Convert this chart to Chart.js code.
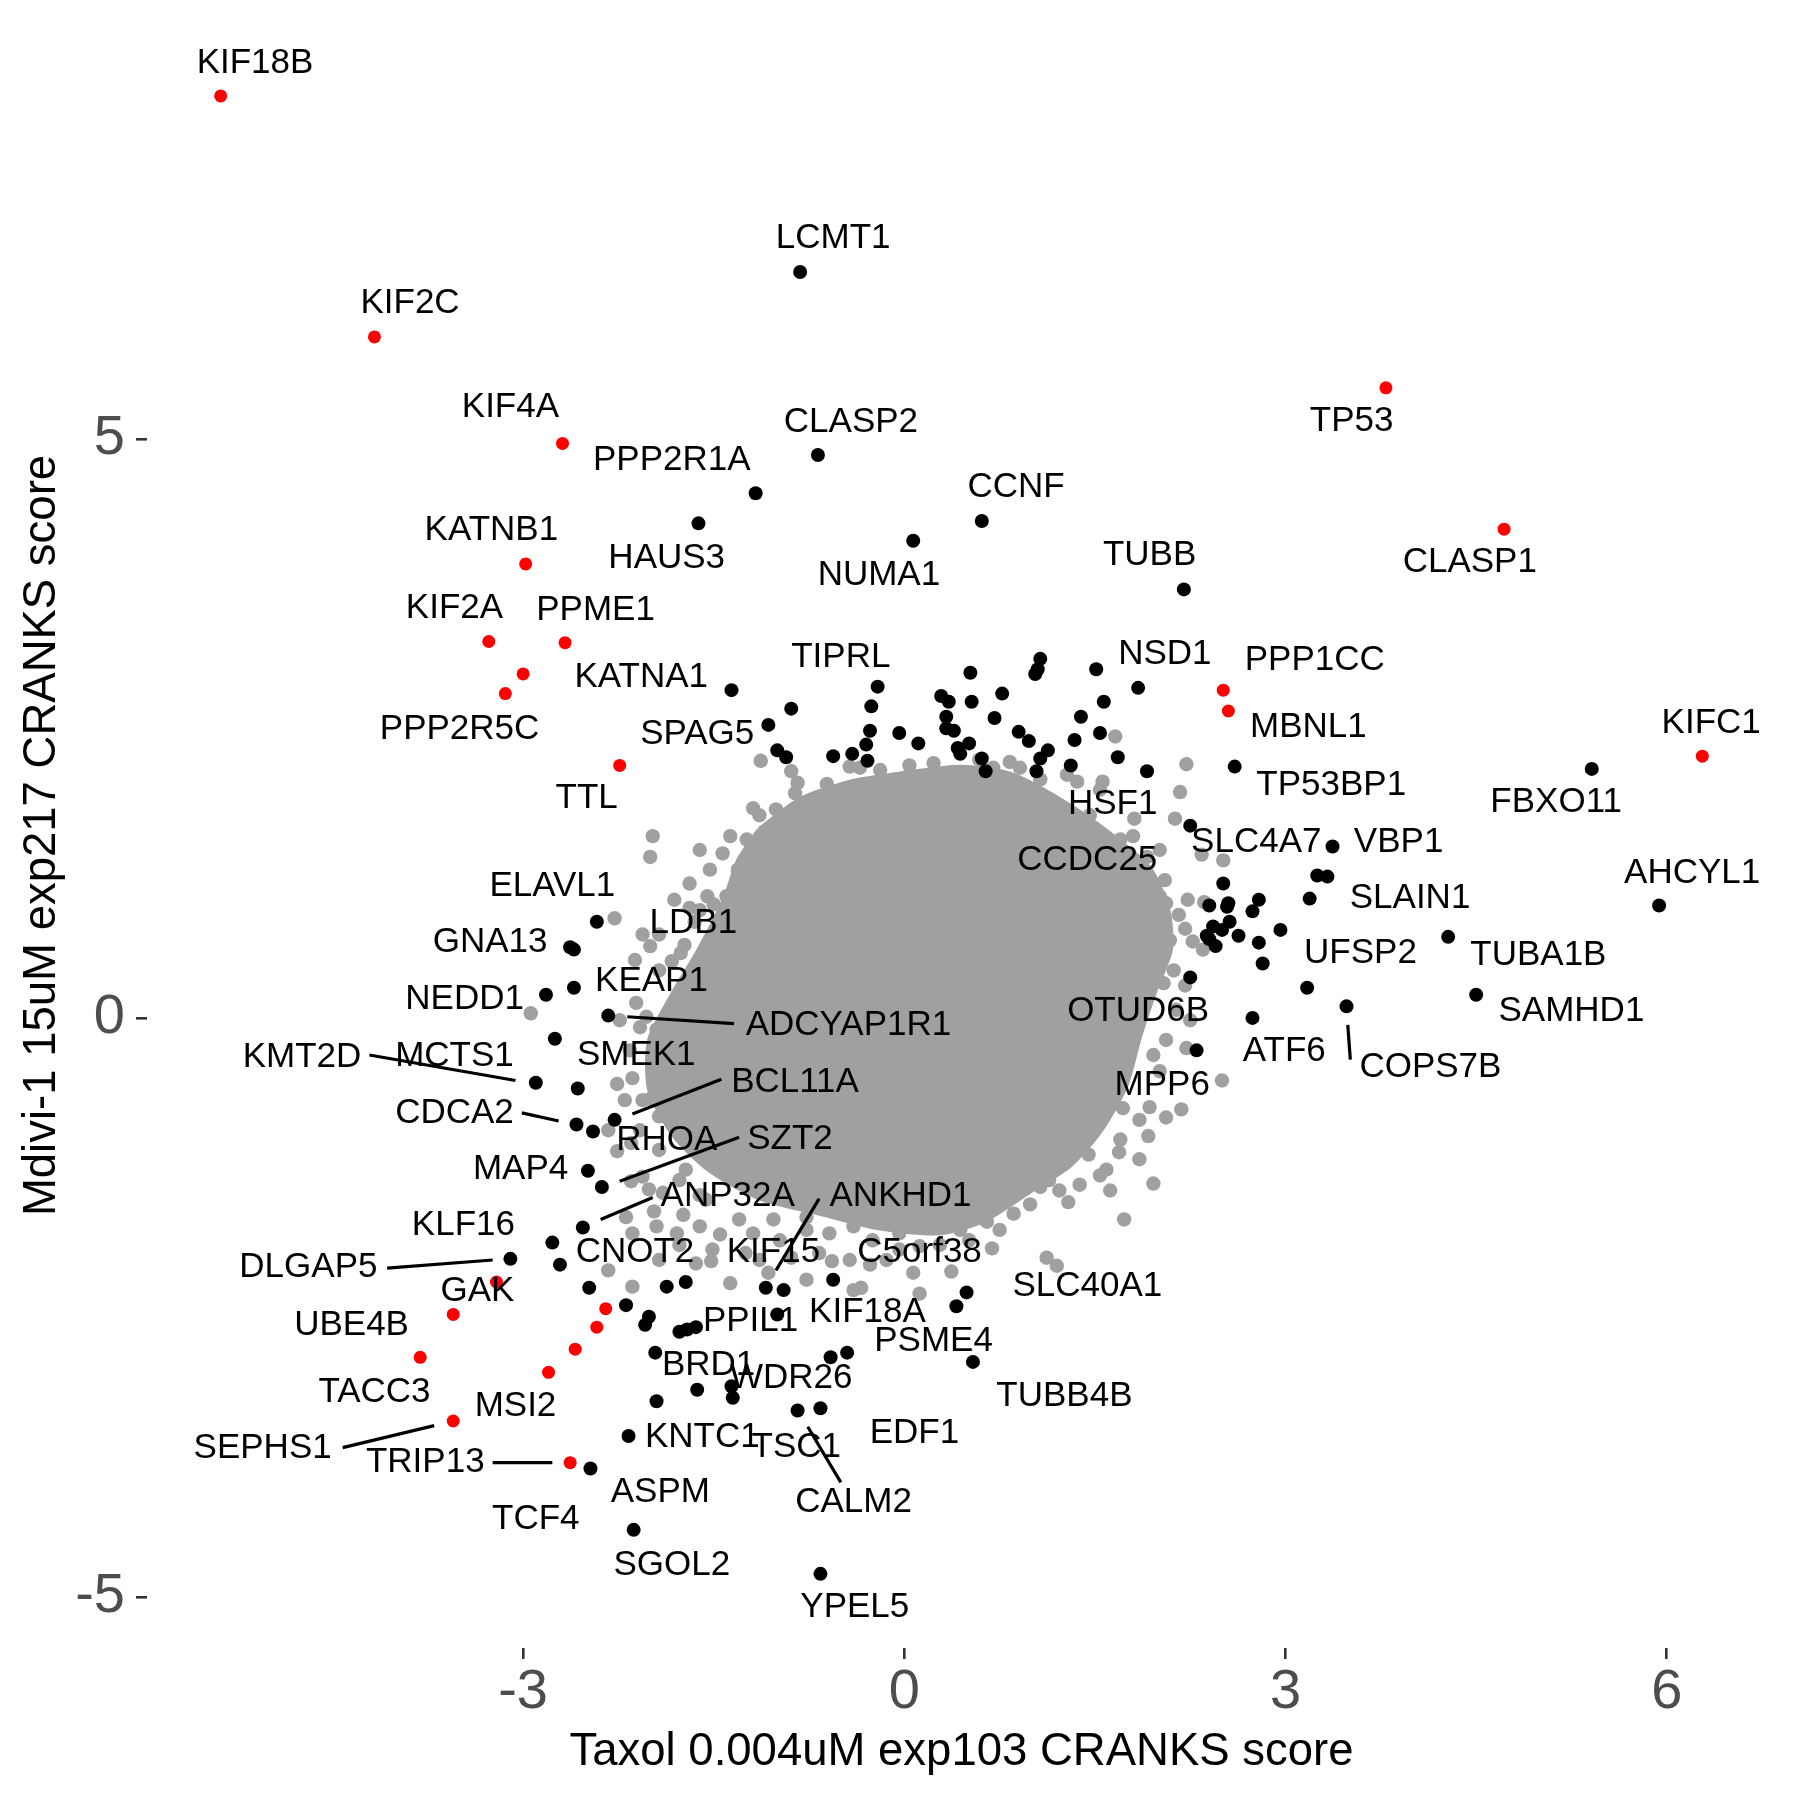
<!DOCTYPE html>
<html><head><meta charset="utf-8">
<script src="https://cdn.jsdelivr.net/npm/chart.js@4.4.1/dist/chart.umd.min.js"></script>
<style>html,body{margin:0;padding:0;background:#fff}canvas{display:block}</style>
</head><body>
<canvas id="c" width="1800" height="1800" style="width:1800px;height:1800px"></canvas>
<script>
const xTitle = "Taxol 0.004uM exp103 CRANKS score";
const yTitle = "Mdivi-1 15uM exp217 CRANKS score";
const xTicks = [-3, 0, 3, 6];
const yTicks = [-5, 0, 5];

// red (highlighted) genes
const redX = [-5.38,-4.17,-2.69,-2.98,-3.27,-2.67,-3.00,-3.14,-2.24,3.79,4.72,2.51,2.55,6.28,-3.21,-3.55,-3.81,-2.35,-2.42,-2.59,-2.80,-3.55,-2.63];
const redY = [7.96,5.88,4.96,3.92,3.25,3.24,2.97,2.80,2.18,5.44,4.22,2.83,2.65,2.26,-2.28,-2.56,-2.93,-2.51,-2.67,-2.86,-3.06,-3.48,-3.84];

// black (significant) genes
const blackX = [-0.82,-0.68,-1.17,-1.62,0.07,0.61,2.20,
 -1.36,-0.89,-1.07,-1.00,-0.93,-0.56,-0.41,-0.29,-0.30,-0.27,-0.26,-0.21,-0.04,0.11,
 0.52,0.29,0.35,0.53,0.77,1.07,1.05,1.03,1.51,1.84,1.57,1.39,1.54,1.34,0.71,0.33,0.33,0.39,0.90,0.98,0.51,0.42,0.44,0.61,0.64,1.13,1.07,1.04,1.31,1.68,1.91,
 2.60,5.41,2.25,3.37,3.25,3.33,3.19,5.94,2.51,2.40,2.54,2.55,2.79,2.74,2.96,2.43,2.50,2.56,2.38,2.63,2.45,2.40,2.79,2.82,4.28,2.25,3.17,4.50,3.48,2.74,2.30,
 -2.42,-2.63,-2.60,-2.60,-2.82,-2.33,-2.75,-2.90,-2.57,-2.58,-2.45,-2.28,-2.49,-2.38,-2.53,-2.77,-3.10,-2.71,-2.48,-1.87,-1.72,-1.09,-0.95,-0.56,-2.19,-2.01,-2.04,-1.00,-1.77,-1.71,-1.64,-1.96,-1.63,-1.36,-1.35,-1.95,-0.58,-0.45,-0.84,-0.66,-2.17,-2.47,-2.13,-0.66,0.49,0.41,0.54];
const blackY = [6.44,4.86,4.53,4.27,4.12,4.29,3.70,
 2.83,2.67,2.53,2.31,2.25,2.26,2.28,2.22,2.36,2.48,2.69,2.86,2.46,2.37,
 2.98,2.78,2.73,2.73,2.80,3.10,3.01,2.97,3.01,2.85,2.73,2.60,2.46,2.40,2.59,2.60,2.50,2.48,2.47,2.39,2.37,2.33,2.28,2.24,2.13,2.31,2.24,2.13,2.18,2.25,2.13,
 2.17,2.15,1.66,1.48,1.23,1.22,1.03,0.97,1.16,0.97,0.96,0.99,1.02,0.92,0.76,0.79,0.76,0.83,0.71,0.71,0.62,0.68,0.65,0.47,0.70,0.35,0.26,0.20,0.10,0.00,-0.28,
 0.83,0.61,0.59,0.26,0.20,0.02,-0.18,-0.56,-0.61,-0.92,-0.98,-0.88,-1.32,-1.46,-1.81,-1.94,-2.08,-2.13,-2.33,-2.32,-2.28,-2.33,-2.35,-2.26,-2.48,-2.58,-2.65,-2.56,-2.71,-2.69,-2.67,-2.89,-3.21,-3.18,-3.28,-3.31,-2.93,-2.89,-3.39,-3.37,-3.61,-3.89,-4.42,-4.80,-2.37,-2.49,-2.97];

// grey (other) genes around the dense core
const greyX = [-1.13,-0.89,-0.84,-0.86,-0.61,-0.43,-0.35,-0.46,-0.53,-0.55,-1.19,-1.14,-1.01,-0.93,-0.76,-0.65,-1.98,-2.00,-1.37,-1.43,-1.24,-1.23,-1.31,-1.69,-1.55,-1.40,-1.69,-2.28,-2.06,-2.00,-1.83,-1.76,-1.73,-1.93,-2.11,-2.24,-2.03,-2.08,-1.95,-1.61,-1.56,0.16,0.23,-1.65,-1.50,-2.94,-2.26,-2.00,-2.33,-2.26,-2.15,-2.15,-2.01,-1.02,0.34,0.46,0.70,0.67,
 0.83,0.91,1.28,1.36,1.56,1.54,1.66,2.22,2.17,2.13,1.80,1.81,1.91,1.85,2.51,2.34,2.23,2.36,2.16,2.21,2.27,2.35,2.01,2.06,2.09,2.12,2.04,2.06,2.22,2.50,1.96,2.01,1.72,1.85,1.93,2.06,2.18,1.92,1.69,1.85,1.54,1.45,1.54,1.59,1.96,1.29,1.73,1.07,1.14,0.86,0.65,0.69,0.37,1.12,1.20,0.12,
 -2.14,-2.06,-1.93,-2.06,-1.90,-2.19,-2.14,-1.95,-1.79,-1.61,-1.51,-1.64,-1.37,-1.19,-1.03,-0.77,-0.59,-0.40,-0.25,-0.04,0.12,-0.67,-0.43,-0.14,0.07,-0.40,-0.77,-2.14,-1.93,-1.56,-1.72,-0.77,-1.97,-1.74,-2.33,-1.52,-1.25,-0.89,-0.57,-0.34,-1.07,0.28,0.44,
 -0.82,-0.67,-1.01,-0.88,-1.09,-0.98,-1.24,-1.14,-1.37,-1.30,-1.45,
 2.21,2.14,2.25,1.38,1.22,0.99,0.75,0.51,1.70,1.62,
 -0.04,-0.27,0.28,-0.98,-1.30,-1.45,-1.77,-1.14,
 -2.16,-2.20,-2.08,-1.93,-1.77,-1.61,-2.12,-1.93,-1.61,-1.81,-1.53,-1.61,
 0.99,1.15,1.46,1.70,2.01,2.05,-0.19,0.04,0.59,1.07];
const greyY = [2.22,2.13,2.03,1.94,2.02,2.17,2.16,1.90,1.80,1.69,1.81,1.75,1.80,1.72,1.84,1.81,1.57,1.39,1.57,1.42,1.54,1.39,1.28,1.16,1.05,1.05,0.95,0.86,0.72,0.62,0.49,0.56,0.63,0.41,0.13,-0.02,0.01,-0.08,-0.10,0.50,0.33,2.06,2.20,0.83,0.98,0.04,-0.57,-0.70,-0.97,-1.15,-1.08,-1.41,-1.48,1.59,2.10,2.10,2.16,2.06,
 2.21,2.16,2.10,2.04,2.04,1.97,2.43,2.19,1.95,1.72,1.57,1.72,1.39,1.25,1.36,1.41,1.02,1.00,0.89,0.77,0.66,0.59,1.05,0.99,0.67,0.41,0.30,-0.19,-0.26,-0.54,-0.32,-0.46,-0.78,-0.88,-0.77,-0.86,-0.79,-1.02,-1.16,-1.22,-0.88,-1.18,-1.36,-1.31,-1.43,-1.59,-1.74,-1.46,-1.40,-1.69,-1.76,-1.99,-2.19,-2.07,-2.14,-2.38,
 -0.52,-0.71,-0.85,-1.37,-1.51,-1.72,-1.86,-1.80,-1.86,-1.80,-2.00,-2.12,-2.29,-1.86,-1.74,-1.83,-1.86,-1.80,-1.92,-1.86,-1.97,-2.03,-2.09,-2.09,-2.20,-2.35,-2.26,-2.32,-2.09,-1.57,-1.31,-1.72,-1.67,-1.70,-2.18,-2.10,-2.03,-2.07,-2.10,-2.33,-2.20,-1.74,-1.83,
 1.65,1.57,1.54,1.45,1.42,1.31,1.25,1.13,1.05,0.93,0.85,
 0.28,0.07,-0.02,-1.44,-1.49,-1.61,-1.83,-1.92,-1.05,-1.49,
 -2.00,-2.13,-1.96,-1.92,-1.74,-1.87,-1.96,-2.09,
 -0.28,-0.71,-0.97,-1.14,-1.40,-1.53,0.50,0.72,0.93,1.02,1.28,1.45,
 1.97,1.88,1.75,1.54,1.45,1.19,2.14,2.18,2.23,2.06];

// outline of the dense, fully overlapped grey core
const coreX = [-1.14,-0.82,-0.43,-0.04,0.44,0.83,1.22,1.62,1.93,2.07,2.09,1.97,1.85,1.74,1.54,1.30,0.99,0.63,0.28,-0.19,-0.67,-1.14,-1.53,-1.81,-2.00,-2.00,-1.82,-1.61,-1.41,-1.30,-1.14];
const coreY = [1.62,1.88,2.03,2.10,2.16,2.10,1.88,1.58,1.28,0.93,0.59,0.24,-0.15,-0.58,-0.97,-1.27,-1.49,-1.74,-1.85,-1.81,-1.68,-1.55,-1.31,-1.01,-0.62,-0.19,0.20,0.59,1.02,1.36,1.62];

// gene labels (repelled positions)
const labelText = ["KIF18B","LCMT1","KIF2C","KIF4A","CLASP2","TP53","PPP2R1A","CCNF","KATNB1","HAUS3","CLASP1","NUMA1","TUBB","KIF2A","PPME1","TIPRL","NSD1","PPP1CC","KATNA1","PPP2R5C","SPAG5","MBNL1","KIFC1","TTL","TP53BP1","FBXO11","HSF1","SLC4A7","VBP1","CCDC25","AHCYL1","ELAVL1","SLAIN1","LDB1","GNA13","UFSP2","TUBA1B","KEAP1","NEDD1","OTUD6B","SAMHD1","ADCYAP1R1","KMT2D","MCTS1","SMEK1","ATF6","COPS7B","BCL11A","MPP6","CDCA2","RHOA","SZT2","MAP4","ANP32A","ANKHD1","KLF16","CNOT2","KIF15","C5orf38","DLGAP5","SLC40A1","GAK","KIF18A","PPIL1","UBE4B","PSME4","BRD1","WDR26","TACC3","MSI2","TUBB4B","EDF1","KNTC1","SEPHS1","TSC1","TRIP13","ASPM","CALM2","TCF4","SGOL2","YPEL5"];
const labelX = [-5.11,-0.56,-3.89,-3.10,-0.42,3.52,-1.83,0.88,-3.25,-1.87,
 4.45,-0.20,1.93,-3.54,-2.43,-0.50,2.05,3.23,-2.07,-3.50,
 -1.63,3.18,6.35,-2.50,3.36,5.13,1.64,2.77,3.89,1.44,
 6.20,-2.77,3.98,-1.66,-3.26,3.59,4.99,-1.99,-3.46,1.84,
 5.25,-0.44,-4.74,-3.54,-2.11,2.99,4.14,-0.86,2.03,-3.54,
 -1.87,-0.90,-3.02,-1.39,-0.03,-3.47,-2.12,-1.03,0.12,-4.69,
 1.44,-3.36,-0.29,-1.21,-4.35,0.23,-1.54,-0.89,-4.17,-3.06,
 1.26,0.08,-1.59,-5.05,-0.85,-3.77,-1.92,-0.40,-2.90,-1.83,-0.39];
const labelY = [8.24,6.73,6.17,5.27,5.14,5.15,4.81,4.58,4.21,3.97,
 3.93,3.82,3.99,3.54,3.52,3.11,3.14,3.09,2.94,2.49,
 2.45,2.51,2.54,1.90,2.01,1.86,1.84,1.52,1.52,1.36,
 1.25,1.14,1.03,0.82,0.65,0.56,0.54,0.32,0.16,0.06,
 0.06,-0.06,-0.34,-0.33,-0.32,-0.29,-0.43,-0.56,-0.58,-0.82,
 -1.06,-1.05,-1.31,-1.54,-1.54,-1.79,-2.02,-2.02,-2.02,-2.15,
 -2.32,-2.36,-2.54,-2.62,-2.65,-2.79,-3.00,-3.11,-3.23,-3.35,
 -3.27,-3.59,-3.62,-3.72,-3.71,-3.84,-4.10,-4.18,-4.33,-4.73,-5.09];

// leader segments (ADCYAP1R1, KMT2D, CDCA2, BCL11A, SZT2, ANP32A, ANKHD1, DLGAP5, SEPHS1, TRIP13, CALM2, COPS7B)
const leaderX1 = [-2.18,-4.21,-3.01,-2.14,-2.24,-2.39,-0.67,-3.24,-3.70,-2.77,-0.76,3.49];
const leaderY1 = [0.01,-0.32,-0.82,-0.83,-1.41,-1.74,-1.56,-2.09,-3.52,-3.84,-3.53,-0.06];
const leaderX2 = [-1.34,-3.06,-2.72,-1.44,-1.30,-1.98,-1.01,-4.07,-4.42,-3.24,-0.50,3.51];
const leaderY2 = [-0.05,-0.54,-0.89,-0.53,-1.03,-1.55,-2.18,-2.16,-3.71,-3.84,-4.01,-0.36];

const FAMILY = '"Liberation Sans", Arial, Helvetica, sans-serif';
const zip = (xs, ys) => xs.map((v, i) => ({x: v, y: ys[i]}));

const labelPlugin = {
  id: 'geneLabels',
  afterDatasetsDraw(chart) {
    const {ctx} = chart;
    const sx = chart.scales.x, sy = chart.scales.y;
    ctx.save();
    ctx.strokeStyle = '#000';
    ctx.lineWidth = 3.2;
    for (let i = 0; i < leaderX1.length; i++) {
      ctx.beginPath();
      ctx.moveTo(sx.getPixelForValue(leaderX1[i]), sy.getPixelForValue(leaderY1[i]));
      ctx.lineTo(sx.getPixelForValue(leaderX2[i]), sy.getPixelForValue(leaderY2[i]));
      ctx.stroke();
    }
    ctx.fillStyle = '#000';
    ctx.font = '35px ' + FAMILY;
    ctx.textAlign = 'center';
    ctx.textBaseline = 'middle';
    for (let i = 0; i < labelText.length; i++) {
      ctx.fillText(labelText[i], sx.getPixelForValue(labelX[i]), sy.getPixelForValue(labelY[i]));
    }
    ctx.restore();
  }
};

const axisCommon = {
  type: 'linear',
  grid: {drawOnChartArea: false, drawTicks: true, tickLength: 11, color: '#333333', lineWidth: 2.6},
  border: {display: false},
};

new Chart(document.getElementById('c'), {
  type: 'scatter',
  data: {
    datasets: [
      {label: 'red', data: zip(redX, redY), backgroundColor: '#FF0000', borderWidth: 0, pointRadius: 6.5, order: 1},
      {label: 'black', data: zip(blackX, blackY), backgroundColor: '#000000', borderWidth: 0, pointRadius: 7, order: 2},
      {label: 'grey', data: zip(greyX, greyY), backgroundColor: '#A0A0A0', borderWidth: 0, pointRadius: 7.2, order: 3},
      {label: 'core', data: zip(coreX, coreY), showLine: true, fill: 'shape', tension: 0.25,
       backgroundColor: '#A0A0A0', borderColor: '#A0A0A0', borderWidth: 6, pointRadius: 0, order: 4}
    ]
  },
  options: {
    responsive: false,
    animation: false,
    devicePixelRatio: 1,
    events: [],
    layout: {padding: {top: 23, right: 24, bottom: 0, left: 0}},
    plugins: {legend: {display: false}, tooltip: {enabled: false}},
    scales: {
      x: Object.assign({}, axisCommon, {
        min: -5.96, max: 6.86,
        afterBuildTicks: s => { s.ticks = xTicks.map(v => ({value: v})); },
        afterFit: s => { s.height = 152; s.paddingLeft = 0; s.paddingRight = 0; },
        ticks: {font: {size: 56, family: FAMILY}, color: '#4D4D4D', padding: 0, maxRotation: 0, autoSkip: false, callback: v => String(v)},
        title: {display: true, text: xTitle, color: '#000', font: {size: 45.5, family: FAMILY}, padding: {top: 0, bottom: 20}}
      }),
      y: Object.assign({}, axisCommon, {
        min: -5.44, max: 8.59,
        afterBuildTicks: s => { s.ticks = yTicks.map(v => ({value: v})); },
        afterFit: s => { s.width = 147; s.paddingTop = 0; s.paddingBottom = 0; },
        ticks: {font: {size: 56, family: FAMILY}, color: '#4D4D4D', padding: 11, autoSkip: false, callback: v => String(v)},
        title: {display: true, text: yTitle, color: '#000', font: {size: 45.5, family: FAMILY}, padding: {top: 15, bottom: 0}}
      })
    }
  },
  plugins: [labelPlugin]
});
</script>
</body></html>
